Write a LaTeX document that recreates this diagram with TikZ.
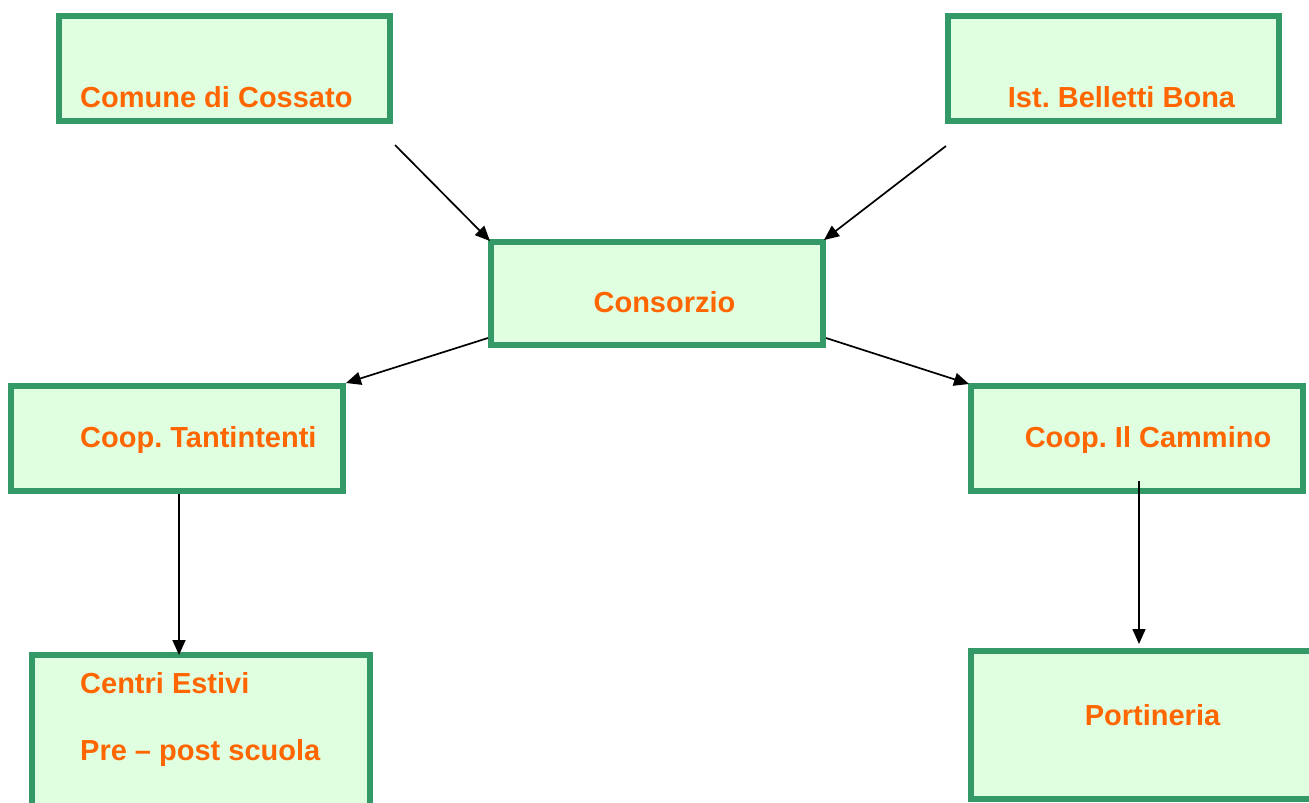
\documentclass[tikz,border=0pt]{standalone}
\usepackage{fontspec}
\setmainfont{Liberation Sans}
\usetikzlibrary{arrows.meta}
\definecolor{boxgreen}{RGB}{51,153,102}
\definecolor{boxfill}{RGB}{224,255,224}
\definecolor{txtorange}{RGB}{255,102,0}
\frenchspacing
\begin{document}
\begin{tikzpicture}[x=1pt,y=-1pt]
\tikzstyle{every node}+=[inner sep=0pt]
\tikzstyle{ente}=[draw=boxgreen,fill=boxfill,line width=6pt,rectangle]
\tikzstyle{nome}=[text=txtorange,font=\fontsize{29}{35}\selectfont\bfseries]
\tikzstyle{freccia}=[black,line width=1.7pt,-{Triangle[length=15pt,width=13pt]}]
\useasboundingbox (0,0) rectangle (1309,803);
\node [ente,minimum width=331pt,minimum height=105pt] (comune) at (224.5,68.5) {};
\node [ente,minimum width=331pt,minimum height=105pt] (belletti) at (1113.5,68.5) {};
\node [ente,minimum width=332pt,minimum height=103pt] (consorzio) at (657,293.5) {};
\node [ente,minimum width=332pt,minimum height=105pt] (tantintenti) at (177,438.5) {};
\node [ente,minimum width=332pt,minimum height=105pt] (cammino) at (1137,438.5) {};
\node [ente,minimum width=338pt,minimum height=172pt] (centri) at (201,741) {};
\node [ente,minimum width=346pt,minimum height=148pt] (portineria) at (1144,725) {};
\node [nome,anchor=base west] (tcomune) at (80,107) {Comune di Cossato};
\node [nome,anchor=base] (tbelletti) at (1121.5,107) {Ist. Belletti Bona};
\node [nome,anchor=base] (tconsorzio) at (664.5,312) {Consorzio};
\node [nome,anchor=base west] (ttantintenti) at (80,447) {Coop. Tantintenti};
\node [nome,anchor=base] (tcammino) at (1148,447) {Coop. Il Cammino};
\node [nome,anchor=base west] (testivi) at (80,693) {Centri Estivi};
\node [nome,anchor=base west] (tscuola) at (80,760) {Pre -- post scuola};
\node [nome,anchor=base] (tportineria) at (1152.5,725) {Portineria};
\coordinate (dacomune) at (395,145);
\coordinate (dabelletti) at (946,146);
\coordinate (dacammino) at (1139,481);
\coordinate (aportineria) at (1139,644);
\draw [freccia] (dacomune) -- ([shift={(2,2)}]consorzio.north west);
\draw [freccia] (dabelletti) -- ([shift={(-2,1)}]consorzio.north east);
\draw [freccia] (consorzio.west |- 0,338) -- (tantintenti.north east);
\draw [freccia] (consorzio.east |- 0,338) -- ([shift={(1,1)}]cammino.north west);
\draw [freccia] (tantintenti.south -| 179,0) -- ([yshift=-3pt]centri.north -| 179,0);
\draw [freccia] (dacammino) -- (aportineria);
\end{tikzpicture}
\end{document}
